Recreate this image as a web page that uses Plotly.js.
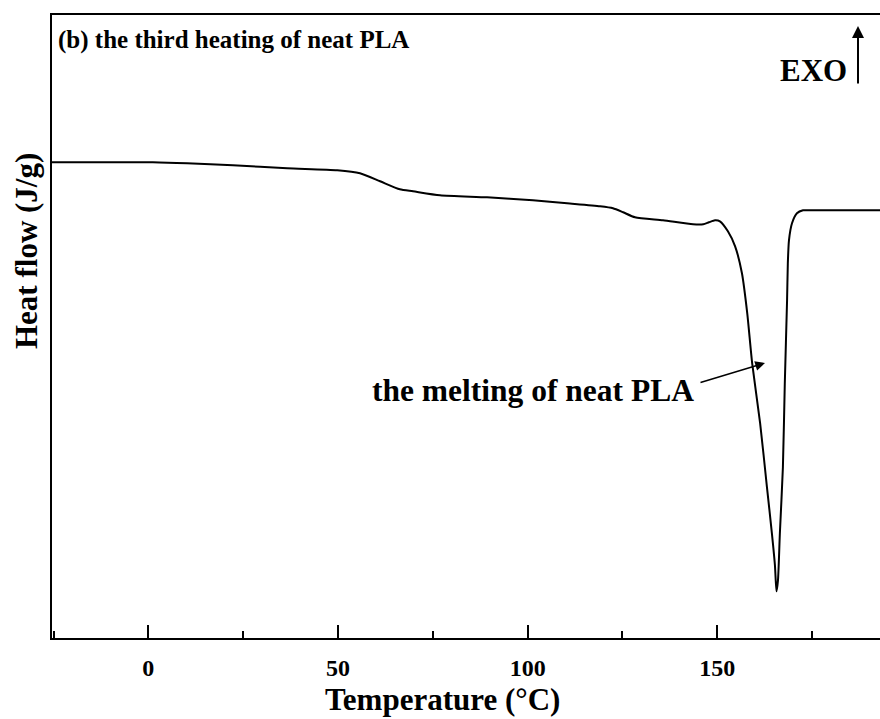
<!DOCTYPE html>
<html>
<head>
<meta charset="utf-8">
<script src="https://cdn.plot.ly/plotly-3.0.1.min.js"></script>
<style>html,body{margin:0;padding:0;background:#fff;}#chart{width:880px;height:719px;}</style>
</head>
<body>
<div id="chart"></div>
<script>
// Temperature (°C)
const temperature = [-25.4, -12.7, 1.2, 10.2, 22.3, 36.6, 49.8, 55.8, 61.1, 66.3, 69.8, 76.9, 89.3, 101.4, 110.4, 119.1, 122.5, 125.2, 128.3, 135.7, 143.6, 146.3, 147.8, 149.4, 150.7, 152.8, 154.7, 156.5, 157.9, 159.2, 161.3, 163.1, 164.4, 165.2, 165.6, 166.0, 166.5, 167.3, 167.8, 168.4, 168.6, 168.9, 169.7, 171.0, 172.6, 173.6, 176.3, 192.9];
// Heat flow (arbitrary units, exo up)
const heatFlow = [0.00, 0.00, 0.00, -0.01, -0.03, -0.06, -0.08, -0.11, -0.19, -0.27, -0.29, -0.33, -0.35, -0.38, -0.41, -0.44, -0.46, -0.50, -0.55, -0.58, -0.62, -0.62, -0.60, -0.58, -0.59, -0.69, -0.84, -1.11, -1.51, -2.01, -2.61, -3.25, -3.71, -4.03, -4.29, -4.18, -3.71, -3.05, -2.21, -1.38, -1.01, -0.78, -0.61, -0.51, -0.48, -0.48, -0.48, -0.48];
const tickValues = [0, 50, 100, 150];
const tickLabels = ['0', '50', '100', '150'];

const W = 880, H = 719, L = 52, R = 0, T = 15, B = 81;
const pw = W - L - R, ph = H - T - B;
const px = v => (v - L) / pw;
const py = v => (H - B - v) / ph;
const serif = 'Liberation Serif, Times New Roman, serif';

const trace = {
  x: temperature, y: heatFlow, type: 'scatter', mode: 'lines',
  line: {color: '#000', width: 2, shape: 'spline', smoothing: 0.6},
  hoverinfo: 'skip'
};

const layout = {
  width: W, height: H,
  margin: {l: L, r: R, t: T, b: B, pad: 0},
  paper_bgcolor: '#fff', plot_bgcolor: '#fff',
  showlegend: false,
  xaxis: {
    range: [-25.4, 192.9], showgrid: false, zeroline: false,
    showline: true, linecolor: '#000', linewidth: 2, mirror: true,
    tickmode: 'array', tickvals: tickValues, ticktext: tickLabels,
    ticks: 'inside', ticklen: 13, tickwidth: 2, tickcolor: '#000',
    ticklabelstandoff: 7,
    minor: {dtick: 25, tick0: 0, ticks: 'inside', ticklen: 7, tickwidth: 2, tickcolor: '#000', showgrid: false},
    tickfont: {family: serif, size: 24, color: '#000', weight: 'bold'}
  },
  yaxis: {
    range: [-4.757, 1.473], showgrid: false, zeroline: false,
    showline: true, linecolor: '#000', linewidth: 2, mirror: false,
    showticklabels: false, ticks: ''
  },
  annotations: [
    {text: 'Temperature (°C)', xref: 'paper', yref: 'paper', x: px(442), y: py(699), xanchor: 'center', yanchor: 'middle', showarrow: false,
     font: {family: serif, size: 31, color: '#000', weight: 'bold'}},
    {text: 'Heat flow (J/g)', xref: 'paper', yref: 'paper', x: px(27), y: py(251), xanchor: 'center', yanchor: 'middle', textangle: -90, showarrow: false,
     font: {family: serif, size: 31, color: '#000', weight: 'bold'}},
    {text: '(b) the third heating of neat PLA', xref: 'paper', yref: 'paper', x: px(56), y: py(40), xanchor: 'left', yanchor: 'middle', showarrow: false,
     font: {family: serif, size: 25, color: '#000', weight: 'bold'}},
    {text: 'EXO', xref: 'paper', yref: 'paper', x: px(849), y: py(70), xanchor: 'right', yanchor: 'middle', showarrow: false,
     font: {family: serif, size: 31, color: '#000', weight: 'bold'}},
    {text: '', xref: 'paper', yref: 'paper', x: px(858), y: py(26), ax: 0, ay: 59, showarrow: true,
     arrowhead: 2, arrowsize: 1.2, arrowwidth: 2, arrowcolor: '#000'},
    {text: 'the melting of neat PLA', xref: 'paper', yref: 'paper', x: px(533), y: py(390), xanchor: 'center', yanchor: 'middle', showarrow: false,
     font: {family: serif, size: 31.5, color: '#000', weight: 'bold'}},
    {text: '', xref: 'paper', yref: 'paper', x: px(765), y: py(363), ax: -66, ay: 20, showarrow: true,
     arrowhead: 2, arrowsize: 1.3, arrowwidth: 1.5, arrowcolor: '#000'}
  ]
};

Plotly.newPlot('chart', [trace], layout, {displayModeBar: false, staticPlot: true});
</script>
</body>
</html>
